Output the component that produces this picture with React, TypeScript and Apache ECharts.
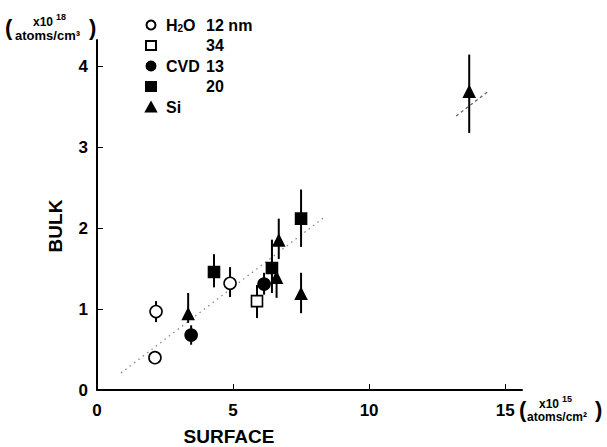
import React, { useEffect, useRef } from "react";
import * as echarts from "echarts";

// [surface x1e15, bulk x1e18, low, high]
const h2o12: (number | null)[][] = [
  [2.17, 0.97, 0.84, 1.1],
  [2.13, 0.4, null, null],
  [4.89, 1.32, 1.15, 1.52],
];
const h2o34: (number | null)[][] = [[5.88, 1.1, 0.89, 1.3]];
const cvd13: (number | null)[][] = [
  [3.46, 0.68, 0.56, 0.8],
  [6.14, 1.31, 1.18, 1.45],
];
const cvd20: (number | null)[][] = [
  [4.3, 1.46, 1.27, 1.68],
  [6.43, 1.51, 1.2, 1.86],
  [7.5, 2.12, 1.77, 2.48],
];
const siData: (number | null)[][] = [
  [3.35, 0.94, 0.83, 1.2],
  [6.6, 1.39, 1.14, 1.57],
  [6.68, 1.85, 1.62, 2.12],
  [7.5, 1.19, 0.95, 1.45],
  [13.68, 3.69, 3.18, 4.15],
];

// fitted trend, drawn in two dotted pieces
const fitLow = [
  [0.88, 0.21],
  [8.4, 2.15],
];
const fitHigh = [
  [13.2, 3.39],
  [14.4, 3.7],
];

const xTicks = [0, 5, 10, 15];
const yTicks = [0, 1, 2, 3, 4];

const FONT = "Liberation Sans, Arial, Helvetica, sans-serif";

export default function App() {
  const ref = useRef<HTMLDivElement>(null);

  useEffect(() => {
    if (!ref.current) return;
    const chart = echarts.init(ref.current, undefined, { renderer: "svg" });

    const groups = [
      { name: "H2O 12 nm", data: h2o12, symbol: "circle", size: 12, fill: "#fff" },
      { name: "H2O 34 nm", data: h2o34, symbol: "rect", size: 11, fill: "#fff" },
      { name: "CVD 13 nm", data: cvd13, symbol: "circle", size: 12, fill: "#000" },
      { name: "CVD 20 nm", data: cvd20, symbol: "rect", size: 11, fill: "#000" },
      { name: "Si", data: siData, symbol: "triangle", size: 11, fill: "#000" },
    ];

    const errData: number[][] = [];
    groups.forEach((g) =>
      g.data.forEach((d) => {
        if (d[2] != null && d[3] != null) errData.push([d[0] as number, d[2] as number, d[3] as number]);
      })
    );

    const legendText: Record<string, string> = {
      "H2O 12 nm": "{h|H}{s|2}{o|O}{b|12 nm}",
      "H2O 34 nm": "{a|}{b|34}",
      "CVD 13 nm": "{a|CVD}{b|13}",
      "CVD 20 nm": "{a|}{b|20}",
      Si: "{a|Si}",
    };

    const boldTxt = { fontFamily: FONT, fontWeight: "bold" as const, fill: "#000" };

    chart.setOption({
      animation: false,
      backgroundColor: "#fff",
      grid: { left: 97, right: 85, top: 40, bottom: 57, containLabel: false },
      legend: {
        orient: "vertical",
        left: 140,
        top: 12,
        itemWidth: 10,
        itemHeight: 9,
        itemGap: 4.5,
        data: groups.map((g) => g.name),
        formatter: (n: string) => legendText[n] || n,
        textStyle: {
          fontFamily: FONT,
          fontWeight: "bold",
          fontSize: 16,
          color: "#000",
          lineHeight: 16,
          rich: {
            a: { fontFamily: FONT, fontWeight: "bold", fontSize: 16, width: 40, padding: [0, 0, 0, 5] },
            h: { fontFamily: FONT, fontWeight: "bold", fontSize: 16, padding: [0, 0, 0, 5] },
            s: { fontFamily: FONT, fontWeight: "bold", fontSize: 10, padding: [6, 0, 0, 0] },
            o: { fontFamily: FONT, fontWeight: "bold", fontSize: 16, width: 23 },
            b: { fontFamily: FONT, fontWeight: "bold", fontSize: 16 },
          },
        },
      },
      xAxis: {
        type: "value",
        min: 0,
        max: 15.62,
        axisLine: { show: true, lineStyle: { color: "#000", width: 2 } },
        axisTick: { show: true, inside: true, length: 6, customValues: xTicks, lineStyle: { color: "#000", width: 1 } },
        axisLabel: {
          customValues: xTicks,
          margin: 12,
          color: "#000",
          fontFamily: FONT,
          fontWeight: "bold",
          fontSize: 17,
        },
        splitLine: { show: false },
      },
      yAxis: {
        type: "value",
        min: 0,
        max: 4.33,
        axisLine: { show: true, lineStyle: { color: "#000", width: 2 } },
        axisTick: { show: true, inside: true, length: 6, customValues: yTicks, lineStyle: { color: "#000", width: 1 } },
        axisLabel: {
          customValues: yTicks,
          margin: 9,
          color: "#000",
          fontFamily: FONT,
          fontWeight: "bold",
          fontSize: 17,
        },
        splitLine: { show: false },
      },
      series: [
        {
          type: "line",
          data: fitLow,
          showSymbol: false,
          lineStyle: { color: "#888", width: 1.3, type: [1.5, 4] },
          z: 1,
          silent: true,
        },
        {
          type: "line",
          data: fitHigh,
          showSymbol: false,
          lineStyle: { color: "#666", width: 1.3, type: [3, 3] },
          z: 1,
          silent: true,
        },
        {
          type: "custom",
          data: errData,
          z: 2,
          silent: true,
          renderItem: (_params: any, api: any) => {
            const p1 = api.coord([api.value(0), api.value(1)]);
            const p2 = api.coord([api.value(0), api.value(2)]);
            return {
              type: "line",
              shape: { x1: p1[0], y1: p1[1], x2: p2[0], y2: p2[1] },
              style: { stroke: "#000", lineWidth: 2 },
            };
          },
        },
        ...groups.map((g) => ({
          name: g.name,
          type: "scatter",
          symbol: g.symbol,
          symbolSize: g.size,
          z: 3,
          data: g.data.map((d) => [d[0], d[1]]),
          itemStyle: { color: g.fill, borderColor: "#000", borderWidth: 1.6, opacity: 1 },
        })),
      ],
      graphic: [
        // bulk unit
        { type: "text", left: 5, top: 16, style: { ...boldTxt, text: "(", fontSize: 22 } },
        { type: "text", left: 33, top: 16, style: { ...boldTxt, text: "x10", fontSize: 12 } },
        { type: "text", left: 56, top: 12, style: { ...boldTxt, text: "18", fontSize: 9 } },
        { type: "text", left: 15, top: 29, style: { ...boldTxt, text: "atoms/cm³", fontSize: 13 } },
        { type: "text", left: 89, top: 16, style: { ...boldTxt, text: ")", fontSize: 22 } },
        // surface unit
        { type: "text", left: 519, top: 398, style: { ...boldTxt, text: "(", fontSize: 22 } },
        { type: "text", left: 539, top: 398, style: { ...boldTxt, text: "x10", fontSize: 12 } },
        { type: "text", left: 562, top: 394, style: { ...boldTxt, text: "15", fontSize: 9 } },
        { type: "text", left: 527, top: 411, style: { ...boldTxt, text: "atoms/cm²", fontSize: 12 } },
        { type: "text", left: 595, top: 398, style: { ...boldTxt, text: ")", fontSize: 22 } },
        // axis titles
        {
          type: "text",
          x: 229,
          y: 436,
          style: { ...boldTxt, text: "SURFACE", fontSize: 19, align: "center", verticalAlign: "middle" },
        },
        {
          type: "text",
          x: 55,
          y: 226,
          rotation: Math.PI / 2,
          style: { ...boldTxt, text: "BULK", fontSize: 19, align: "center", verticalAlign: "middle" },
        },
      ],
    });

    return () => chart.dispose();
  }, []);

  return <div ref={ref} style={{ position: "absolute", left: 0, top: 0, width: 607, height: 447 }} />;
}
